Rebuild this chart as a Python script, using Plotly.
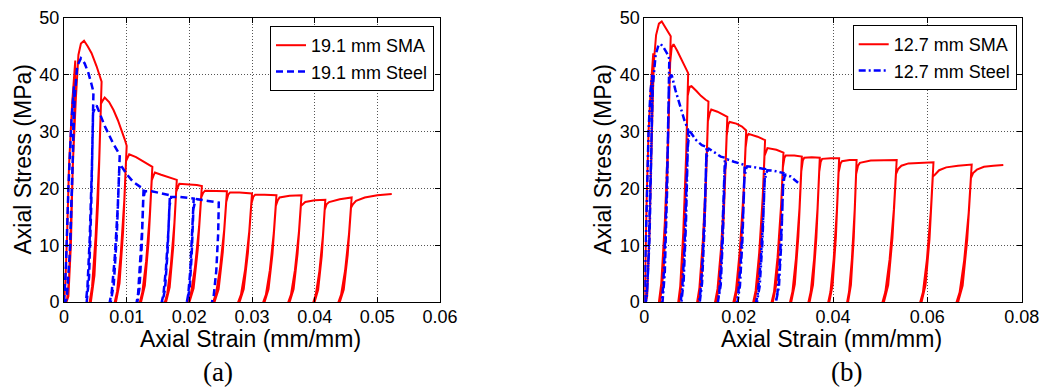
import plotly.graph_objects as go

# ---------------- Panel (a): 19.1 mm specimens ----------------
sma_a_strain = [
    0, 0.0002, 0.0005, 0.0008, 0.0013, 0.0018,
    0.0016, 0.0012, 0.0008, 0.0005, 0.0004, 0.0007, 0.0011, 0.0014, 0.0019,
    0.0023, 0.0027, 0.0032, 0.0038, 0.0044, 0.0052, 0.0060,
    0.00562, 0.00505, 0.00448, 0.0041, 0.00429, 0.00486, 0.00543, 0.0059,
    0.0062, 0.0065, 0.0072, 0.0079, 0.0086, 0.0092, 0.0097, 0.0100,
    0.00962, 0.00905, 0.00848, 0.0081, 0.00829, 0.00886, 0.00943, 0.0099,
    0.0102, 0.0104, 0.0115, 0.0125, 0.0135, 0.0141,
    0.0137, 0.0131, 0.0125, 0.0121, 0.0123, 0.0129, 0.0135, 0.0140,
    0.0143, 0.0145, 0.0155, 0.0165, 0.0180,
    0.01762, 0.01705, 0.01648, 0.0161, 0.01629, 0.01686, 0.01743, 0.0179,
    0.0182, 0.0184, 0.0200, 0.0212, 0.0220,
    0.02156, 0.0209, 0.02024, 0.0198, 0.02002, 0.02068, 0.02134, 0.02189,
    0.0222, 0.0225, 0.0240, 0.0260,
    0.02556, 0.0249, 0.02424, 0.0238, 0.02402, 0.02468, 0.02534, 0.02589,
    0.0262, 0.0265, 0.0280, 0.0300,
    0.02956, 0.0289, 0.02824, 0.0278, 0.02802, 0.02868, 0.02934, 0.02989,
    0.0302, 0.0305, 0.0320, 0.0339,
    0.03348, 0.03285, 0.03222, 0.0318, 0.03201, 0.03264, 0.03327, 0.0338,
    0.0341, 0.0344, 0.0360, 0.0379,
    0.03748, 0.03685, 0.03622, 0.0358, 0.03601, 0.03664, 0.03727, 0.0378,
    0.0381, 0.0385, 0.0400, 0.0417,
    0.04132, 0.04075, 0.04018, 0.0398, 0.03999, 0.04056, 0.04113, 0.0416,
    0.0419, 0.0423, 0.0440, 0.0459,
    0.04548, 0.04485, 0.04422, 0.0438, 0.04401, 0.04464, 0.04527, 0.0458,
    0.0461, 0.0466, 0.0480, 0.0500, 0.0523,
]
sma_a_stress = [
    0, 3, 12, 24, 35, 42.5,
    30, 15, 4, 0.5, 0, 1, 10, 24, 36,
    43.5, 45.5, 46.0, 45.0, 43.8, 41.5, 38.8,
    25.2, 11.6, 2.7, 0, 0, 4.7, 17.5, 34.9,
    35.5, 36.0, 35.2, 33.8, 32.0, 30.3, 28.6, 27.5,
    17.9, 8.3, 1.9, 0, 0, 3.3, 12.4, 24.8,
    25.5, 26.0, 25.5, 24.9, 24.2, 23.8,
    15.5, 7.1, 1.7, 0, 0, 2.9, 10.7, 21.4,
    22.3, 22.8, 22.4, 22.0, 21.5,
    14.0, 6.5, 1.5, 0, 0, 2.6, 9.7, 19.4,
    20.3, 20.8, 20.7, 20.6, 20.4,
    13.3, 6.1, 1.4, 0, 0, 2.4, 9.2, 18.4,
    19.2, 19.6, 19.6, 19.5,
    12.7, 5.9, 1.4, 0, 0, 2.3, 8.8, 17.6,
    18.9, 19.3, 19.3, 19.1,
    12.4, 5.7, 1.3, 0, 0, 2.3, 8.6, 17.2,
    18.5, 18.9, 18.9, 18.8,
    12.2, 5.6, 1.3, 0, 0, 2.3, 8.5, 16.9,
    17.9, 18.4, 18.7, 18.8,
    12.2, 5.6, 1.3, 0, 0, 2.3, 8.5, 16.9,
    17.2, 17.6, 17.9, 18.0,
    11.7, 5.4, 1.3, 0, 0, 2.2, 8.1, 16.2,
    17.2, 17.6, 18.1, 18.4,
    12.0, 5.5, 1.3, 0, 0, 2.2, 8.3, 16.6,
    17.2, 17.8, 18.4, 18.8, 19.0,
]

steel_a_strain = [
    0, 0.0003, 0.0007, 0.0012, 0.0016,
    0.0014, 0.0010, 0.0005, 0.0002, 0.0004, 0.0009, 0.0013, 0.0017,
    0.0021, 0.0027, 0.0033, 0.0039, 0.0044, 0.0047,
    0.00446, 0.0041, 0.00374, 0.0035, 0.00362, 0.0040, 0.00434, 0.00464,
    0.0049, 0.0052, 0.0065, 0.0078, 0.0089,
    0.00858, 0.0081, 0.00762, 0.0073, 0.00746, 0.00794, 0.00842, 0.00882,
    0.0091, 0.0100, 0.0110, 0.0120, 0.0127,
    0.01248, 0.01215, 0.01182, 0.0116, 0.01171, 0.01204, 0.01237, 0.01265,
    0.0129, 0.0140, 0.0155, 0.0169,
    0.01664, 0.01625, 0.01586, 0.0156, 0.01573, 0.01612, 0.01651, 0.01684,
    0.0171, 0.0185, 0.0207,
    0.02048, 0.02015, 0.01982, 0.0196, 0.01971, 0.02004, 0.02037, 0.02065,
    0.0209, 0.0212, 0.0230, 0.0247,
    0.0246, 0.0243, 0.0239, 0.0236,
]
steel_a_stress = [
    0, 6, 20, 32, 38,
    25, 10, 1.5, 0, 0.5, 8, 22, 36,
    41.5, 42.9, 42.0, 40.3, 38.3, 37.0,
    24.1, 11.1, 2.6, 0, 0, 4.4, 16.7, 33.3,
    34.0, 34.6, 31.0, 28.0, 25.9,
    16.8, 7.8, 1.8, 0, 0, 3.1, 11.7, 23.3,
    24.0, 22.5, 21.2, 20.4, 20.0,
    13.0, 6.0, 1.4, 0, 0, 2.4, 9.0, 18.0,
    19.5, 19.5, 19.1, 18.8,
    12.2, 5.6, 1.3, 0, 0, 2.3, 8.5, 16.9,
    18.5, 18.5, 18.2,
    11.8, 5.5, 1.3, 0, 0, 2.2, 8.2, 16.4,
    17.6, 18.1, 17.8, 17.5,
    12.0, 5.5, 1.2, 0,
]

# ---------------- Panel (b): 12.7 mm specimens ----------------
sma_b_strain = [
    0, 0.0002, 0.0005, 0.0009, 0.0014, 0.0019,
    0.0016, 0.0011, 0.0006, 0.0003, 0.0006, 0.0010, 0.0015, 0.0020,
    0.0025, 0.0031, 0.0037, 0.0043, 0.0050, 0.0056,
    0.0051, 0.00435, 0.0036, 0.0031, 0.00335, 0.0041, 0.00485, 0.00548,
    0.0058, 0.0062, 0.0070, 0.0076, 0.0085, 0.0093,
    0.00888, 0.00825, 0.00762, 0.0072, 0.00741, 0.00804, 0.00867, 0.0092,
    0.0096, 0.0100, 0.0110, 0.0120, 0.0130, 0.0136,
    0.01312, 0.0124, 0.01168, 0.0112, 0.01144, 0.01216, 0.01288, 0.01348,
    0.0139, 0.0142, 0.0155, 0.0168, 0.0176,
    0.01708, 0.0163, 0.01552, 0.0150, 0.01526, 0.01604, 0.01682, 0.01747,
    0.0178, 0.0181, 0.0195, 0.0207, 0.0216,
    0.02106, 0.02025, 0.01944, 0.0189, 0.01917, 0.01998, 0.02079, 0.02147,
    0.0218, 0.0221, 0.0240, 0.0256,
    0.0251, 0.02435, 0.0236, 0.0231, 0.02335, 0.0241, 0.02485, 0.02548,
    0.0258, 0.0261, 0.0280, 0.0295,
    0.0290, 0.02825, 0.0275, 0.0270, 0.02725, 0.0280, 0.02875, 0.02938,
    0.0297, 0.0300, 0.0318, 0.0334,
    0.0329, 0.03215, 0.0314, 0.0309, 0.03115, 0.0319, 0.03265, 0.03328,
    0.0336, 0.0339, 0.0355, 0.0372,
    0.03672, 0.0360, 0.03528, 0.0348, 0.03504, 0.03576, 0.03648, 0.03708,
    0.0374, 0.0377, 0.0395, 0.0413,
    0.04084, 0.04015, 0.03946, 0.0390, 0.03923, 0.03992, 0.04061, 0.04119,
    0.0416, 0.0419, 0.0435, 0.0450,
    0.0446, 0.0440, 0.0434, 0.0430, 0.0432, 0.0438, 0.0444, 0.0449,
    0.0453, 0.0457, 0.0480, 0.0510, 0.0535,
    0.0529, 0.0520, 0.0511, 0.0505, 0.0508, 0.0517, 0.0526, 0.05335,
    0.0538, 0.0545, 0.0560, 0.0590, 0.0613,
    0.06074, 0.0599, 0.05906, 0.0585, 0.05878, 0.05962, 0.06046, 0.06116,
    0.0616, 0.0625, 0.0640, 0.0665, 0.0694,
    0.06876, 0.0678, 0.06684, 0.0662, 0.06652, 0.06748, 0.06844, 0.06924,
    0.0697, 0.0705, 0.0720, 0.0740, 0.0761,
]
sma_b_stress = [
    0, 5, 18, 30, 38, 43.8,
    30, 12, 2, 0, 1, 10, 28, 42,
    47.0, 49.0, 49.4, 48.5, 47.6, 46.8,
    30.4, 14.0, 3.3, 0, 0, 5.6, 21.1, 42.1,
    44.8, 45.4, 44.2, 43.2, 41.6, 40.3,
    26.2, 12.1, 2.8, 0, 0, 4.8, 18.1, 36.3,
    37.9, 38.0, 37.2, 36.3, 35.6, 35.3,
    22.9, 10.6, 2.5, 0, 0, 4.2, 15.9, 31.8,
    33.3, 33.9, 33.5, 32.9, 32.6,
    21.2, 9.8, 2.3, 0, 0, 3.9, 14.7, 29.3,
    31.3, 31.7, 31.4, 30.9, 30.2,
    19.6, 9.1, 2.1, 0, 0, 3.6, 13.6, 27.2,
    29.2, 29.6, 29.1, 28.5,
    18.5, 8.6, 2.0, 0, 0, 3.4, 12.8, 25.7,
    26.6, 27.1, 26.8, 26.3,
    17.1, 7.9, 1.8, 0, 0, 3.2, 11.8, 23.7,
    25.4, 25.8, 25.8, 25.6,
    16.6, 7.7, 1.8, 0, 0, 3.1, 11.5, 23.0,
    24.9, 25.4, 25.5, 25.4,
    16.5, 7.6, 1.8, 0, 0, 3.0, 11.4, 22.9,
    24.7, 25.2, 25.3, 25.3,
    16.4, 7.6, 1.8, 0, 0, 3.0, 11.4, 22.8,
    24.4, 24.8, 25.0, 25.0,
    16.3, 7.5, 1.8, 0, 0, 3.0, 11.3, 22.5,
    24.0, 24.5, 24.9, 25.0, 25.0,
    16.3, 7.5, 1.8, 0, 0, 3.0, 11.3, 22.5,
    23.4, 24.0, 24.4, 24.5, 24.6,
    16.0, 7.4, 1.7, 0, 0, 3.0, 11.1, 22.1,
    22.4, 23.2, 23.7, 24.0, 24.2,
    15.7, 7.3, 1.7, 0, 0, 2.9, 10.9, 21.8,
    22.7, 23.3, 23.8, 24.0, 24.1,
]

steel_b_strain = [
    0, 0.0002, 0.0005, 0.0009, 0.0013, 0.0017,
    0.0015, 0.0011, 0.0006, 0.0003, 0.0005, 0.0009, 0.0013, 0.0018,
    0.0024, 0.0030, 0.0035, 0.0041, 0.0048, 0.0053,
    0.00498, 0.0045, 0.00402, 0.0037, 0.00386, 0.00434, 0.00482, 0.00522,
    0.0056, 0.0058, 0.0066, 0.0076, 0.0085, 0.0093,
    0.00898, 0.0085, 0.00802, 0.0077, 0.00786, 0.00834, 0.00882, 0.00922,
    0.0095, 0.0097, 0.0110, 0.0122, 0.0132,
    0.01288, 0.0124, 0.01192, 0.0116, 0.01176, 0.01224, 0.01272, 0.01312,
    0.0134, 0.0137, 0.0150, 0.0162, 0.0171,
    0.0168, 0.01635, 0.0159, 0.0156, 0.01575, 0.0162, 0.01665, 0.01703,
    0.0173, 0.0176, 0.0190, 0.0202, 0.0213,
    0.02096, 0.02045, 0.01994, 0.0196, 0.01977, 0.02028, 0.02079, 0.02122,
    0.0215, 0.0218, 0.0235, 0.0250, 0.0256,
    0.02522, 0.02465, 0.02408, 0.0237, 0.02389, 0.02446, 0.02503, 0.0255,
    0.0258, 0.0261, 0.0275, 0.0288, 0.0295,
    0.02918, 0.0287, 0.02822, 0.0279, 0.02806, 0.02854, 0.02902, 0.02942,
    0.0297, 0.0300, 0.0310, 0.0318, 0.0326,
]
steel_b_stress = [
    0, 6, 18, 30, 37, 40,
    27, 11, 2, 0, 0.5, 8, 24, 38,
    43.5, 45.2, 45.4, 44.8, 43.8, 42.8,
    27.8, 12.8, 3.0, 0, 0, 5.1, 19.3, 38.5,
    39.8, 40.0, 37.3, 34.3, 32.0, 30.3,
    19.7, 9.1, 2.1, 0, 0, 3.6, 13.6, 27.3,
    29.6, 30.0, 28.5, 27.6, 27.3,
    17.7, 8.2, 1.9, 0, 0, 3.3, 12.3, 24.6,
    26.6, 27.0, 26.2, 25.6, 25.4,
    16.5, 7.6, 1.8, 0, 0, 3.0, 11.4, 22.9,
    24.6, 25.1, 24.7, 24.4, 24.1,
    15.7, 7.2, 1.7, 0, 0, 2.9, 10.8, 21.7,
    23.3, 23.9, 23.7, 23.5, 23.4,
    15.2, 7.0, 1.6, 0, 0, 2.8, 10.5, 21.1,
    22.6, 23.2, 23.1, 22.9, 22.7,
    14.8, 6.8, 1.6, 0, 0, 2.7, 10.2, 20.4,
    22.0, 22.4, 22.1, 21.6, 21.0,
]

# ---------------- Ticks and labels ----------------
x_ticks_a = [0, 0.01, 0.02, 0.03, 0.04, 0.05, 0.06]
x_ticklabels_a = ["0", "0.01", "0.02", "0.03", "0.04", "0.05", "0.06"]
x_ticks_b = [0, 0.02, 0.04, 0.06, 0.08]
x_ticklabels_b = ["0", "0.02", "0.04", "0.06", "0.08"]
y_ticks = [0, 10, 20, 30, 40, 50]
y_ticklabels = ["0", "10", "20", "30", "40", "50"]

series_names = ["19.1 mm SMA", "19.1 mm Steel", "12.7 mm SMA", "12.7 mm Steel"]
x_title = "Axial Strain (mm/mm)"
y_title = "Axial Stress (MPa)"
panel_labels = ["(a)", "(b)"]

SANS = "Liberation Sans, Arial, sans-serif"
SERIF = "Liberation Serif, Times New Roman, serif"
RED = "#FF0000"
BLUE = "#0000FF"

# The page body margin is removed by a post script, so the figure fills the window exactly.
FW, FH = 1042, 388


def px(x_screen):
    return x_screen / FW


def py(y_screen):
    return 1 - y_screen / FH


fig = go.Figure()
fig.add_trace(go.Scatter(x=sma_a_strain, y=sma_a_stress, mode="lines", name=series_names[0],
                         line=dict(color=RED, width=2), xaxis="x", yaxis="y", legend="legend"))
fig.add_trace(go.Scatter(x=steel_a_strain, y=steel_a_stress, mode="lines", name=series_names[1],
                         line=dict(color=BLUE, width=2.5, dash="7px,4px"), xaxis="x", yaxis="y",
                         legend="legend"))
fig.add_trace(go.Scatter(x=sma_b_strain, y=sma_b_stress, mode="lines", name=series_names[2],
                         line=dict(color=RED, width=2), xaxis="x2", yaxis="y2", legend="legend2"))
fig.add_trace(go.Scatter(x=steel_b_strain, y=steel_b_stress, mode="lines", name=series_names[3],
                         line=dict(color=BLUE, width=2.5, dash="7px,3px,2px,3px"), xaxis="x2",
                         yaxis="y2", legend="legend2"))

axis_common = dict(
    showline=True, linecolor="black", linewidth=1, mirror="ticks",
    ticks="inside", ticklen=5, tickcolor="black", tickwidth=1,
    showgrid=True, gridcolor="#555555", gridwidth=1, griddash="1px,2px",
    zeroline=False, automargin=False,
    tickfont=dict(family=SANS, size=18, color="black"),
)

y_dom = [py(302), py(18)]

fig.update_layout(
    width=FW, height=FH,
    margin=dict(l=0, r=0, t=0, b=0, pad=0, autoexpand=False),
    paper_bgcolor="white", plot_bgcolor="white",
    showlegend=True,
    xaxis=dict(domain=[px(64), px(440)], range=[0, 0.06], tickvals=x_ticks_a,
               ticktext=x_ticklabels_a, anchor="y", ticklabelstandoff=-2, **axis_common),
    yaxis=dict(domain=y_dom, range=[0, 50], tickvals=y_ticks, ticktext=y_ticklabels,
               anchor="x", **axis_common),
    xaxis2=dict(domain=[px(644.3), px(1021.7)], range=[0, 0.08], tickvals=x_ticks_b,
                ticktext=x_ticklabels_b, anchor="y2", ticklabelstandoff=-2, **axis_common),
    yaxis2=dict(domain=y_dom, range=[0, 50], tickvals=y_ticks, ticktext=y_ticklabels,
                anchor="x2", **axis_common),
    legend=dict(x=px(434), y=py(26), xanchor="right", yanchor="top",
                bgcolor="white", bordercolor="black", borderwidth=1,
                font=dict(family=SANS, size=18, color="black"), tracegroupgap=0),
    legend2=dict(x=px(1016.7), y=py(25), xanchor="right", yanchor="top",
                 bgcolor="white", bordercolor="black", borderwidth=1,
                 font=dict(family=SANS, size=18, color="black"), tracegroupgap=0),
)

annots = [
    dict(text=y_title, x=px(22.5), y=py(160), textangle=-90, font=dict(family=SANS, size=23)),
    dict(text=x_title, x=px(250), y=py(339), font=dict(family=SANS, size=23)),
    dict(text=y_title, x=px(602.5), y=py(160), textangle=-90, font=dict(family=SANS, size=23)),
    dict(text=x_title, x=px(831), y=py(339), font=dict(family=SANS, size=23)),
    dict(text=panel_labels[0], x=px(217.5), y=py(372), font=dict(family=SERIF, size=27)),
    dict(text=panel_labels[1], x=px(846.7), y=py(372), font=dict(family=SERIF, size=27)),
]
for a in annots:
    a.update(xref="paper", yref="paper", xanchor="center", yanchor="middle", showarrow=False,
             borderpad=0)
    a["font"]["color"] = "black"
fig.update_layout(annotations=annots)

fig.write_html(
    "out.html",
    config={"displayModeBar": False, "staticPlot": True},
    post_script="document.body.style.margin='0';document.body.style.overflow='hidden';",
)
